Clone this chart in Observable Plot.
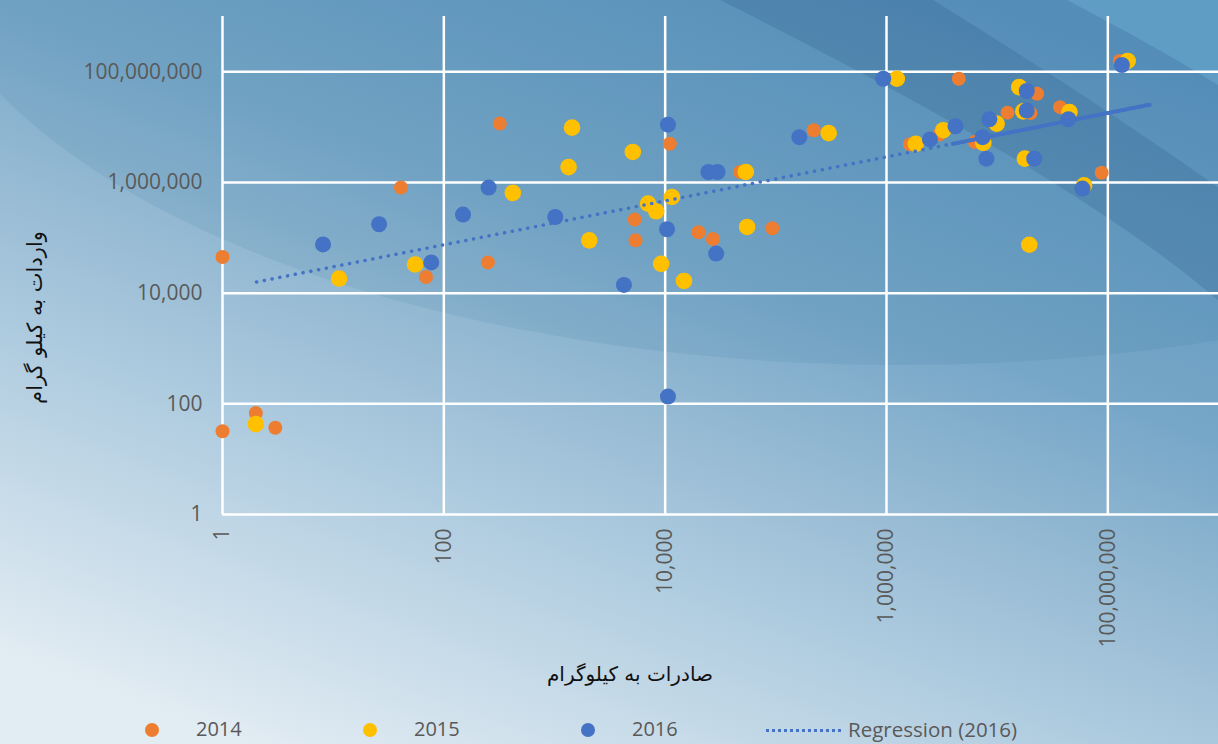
<!DOCTYPE html>
<html><head><meta charset="utf-8">
<script src="https://cdn.jsdelivr.net/npm/d3@7"></script>
<script src="https://cdn.jsdelivr.net/npm/@observablehq/plot@0.6"></script>
<style>
html,body{margin:0;padding:0;background:#fff;}
#wrap{position:relative;width:1218px;height:744px;overflow:hidden;font-family:"Open Sans",sans-serif;}
#bg{position:absolute;left:0;top:0;}
#chart{position:absolute;left:0;top:0;}
#xtitle{position:absolute;left:430px;width:400px;top:660px;text-align:center;font-family:"DejaVu Sans",sans-serif;font-size:20px;line-height:28px;color:#111;direction:rtl;}
.lg{position:absolute;top:719px;height:20px;font-size:20px;line-height:20px;color:#595959;white-space:nowrap;}
.lgdot{position:absolute;width:14px;height:14px;border-radius:50%;top:723px;}
.lgline{position:absolute;top:729px;height:0;border-top:3px dotted #4472C4;}
</style>
</head><body>
<div id="wrap">
<svg id="bg" width="1218" height="744" viewBox="0 0 1218 744">
  <defs>
    <linearGradient id="g0" x1="0.2" y1="1" x2="0.8" y2="0">
      <stop offset="0" stop-color="#e2ecf3"/>
      <stop offset="0.35" stop-color="#a9c8dd"/>
      <stop offset="0.45" stop-color="#9abdd5"/>
      <stop offset="0.65" stop-color="#77a7c8"/>
      <stop offset="1" stop-color="#5a92bd"/>
    </linearGradient>
  </defs>
  <rect width="1218" height="744" fill="url(#g0)"/>
  <ellipse cx="900" cy="-100" rx="990" ry="465" fill="#2c6797" opacity="0.10"/>
  <path d="M720,0 L933,0 C1030,60 1130,125 1218,187 L1218,300 C1100,200 920,100 720,0 Z" fill="#23527c" opacity="0.2"/>
  <path d="M1067,0 L1218,0 L1218,85 C1170,55 1120,28 1067,0 Z" fill="#7cc0e6" opacity="0.3"/>
</svg>
<div id="chart"></div>
<div id="xtitle"></div>
<div id="legend"></div>
</div>
<script>
const xTicks = [1, 100, 10000, 1000000, 100000000];
const yTicks = [1, 100, 10000, 1000000, 100000000];
const xTitle = "صادرات به کیلوگرام";
const yTitle = "واردات به کیلو گرام";
const seriesNames = ["2014", "2015", "2016", "Regression (2016)"];
const seriesColors = ["#ED7D31", "#FFC000", "#4472C4", "#4472C4"];

// 2014 (orange)
const x2014 = [1, 2.0, 1, 3.0, 41, 69, 320, 250, 11000, 5300, 5400, 20000, 27000, 93000, 220000, 4.5e6, 2.3e7, 2.0e7, 1.24e7, 3.7e7, 8.8e7, 1.63e6, 6.3e6, 1.28e8, 3.0e6, 47500];
const y2014 = [45000, 68, 32, 37, 810000, 19600, 1.16e7, 36000, 5.0e6, 214000, 90000, 126000, 95000, 149000, 8.8e6, 7.5e7, 4.0e7, 1.8e7, 1.83e7, 2.3e7, 1.5e6, 4.9e6, 5.4e6, 1.57e8, 7.4e6, 1.55e6];
// 2015 (yellow)
const x2015 = [2.0, 11.3, 55, 420, 1440, 1340, 2060, 5100, 7000, 8300, 11500, 9200, 14800, 55000, 53500, 3.0e5, 1.24e6, 1.84e6, 3.26e6, 9.9e6, 7.5e6, 1.58e7, 1.72e7, 1.78e7, 4.5e7, 6.1e7, 1.95e7, 1.51e8];
const y2015 = [43, 18400, 33000, 650000, 9.8e6, 1.9e6, 90000, 3.56e6, 416000, 302000, 547000, 34000, 16600, 157000, 1.55e6, 7.8e6, 7.5e7, 5.0e6, 8.8e6, 1.16e7, 5.2e6, 5.3e7, 1.93e7, 2.7e6, 1.88e7, 890000, 75000, 1.57e8];
// 2016 (blue)
const x2016 = [8.1, 26, 77, 149, 254, 1016, 4240, 10400, 10600, 10600, 24600, 29700, 28900, 163000, 935000, 2.47e6, 4.2e6, 7.4e6, 8.5e6, 8.0e6, 1.85e7, 1.85e7, 2.16e7, 4.4e7, 5.9e7, 1.34e8];
const y2016 = [76000, 176000, 36000, 263000, 810000, 238000, 14100, 143000, 1.11e7, 135, 1.55e6, 1.55e6, 52000, 6.6e6, 7.5e7, 6.0e6, 1.04e7, 6.6e6, 1.39e7, 2.7e6, 4.5e7, 2.0e7, 2.7e6, 1.39e7, 776000, 1.33e8];
// Regression (2016) trendline endpoints
const regX = [2.03, 2.39e8];
const regY = [15900, 2.55e7];
const regDenseX = [3.98e6, 2.39e8];
const regDenseY = [5.0e6, 2.55e7];

const toPts = (xs, ys) => xs.map((x, i) => ({x, y: ys[i]}));
const d14 = toPts(x2014, y2014), d15 = toPts(x2015, y2015), d16 = toPts(x2016, y2016);
const reg = toPts(regX, regY), regDense = toPts(regDenseX, regDenseY);
const fmt = d3.format(",");

const chart = Plot.plot({
  width: 1218, height: 660,
  marginTop: 16, marginLeft: 222, marginRight: 0, marginBottom: 146,
  style: {background: "transparent", fontFamily: "'Open Sans', sans-serif", overflow: "visible"},
  x: {type: "log", domain: [1, 1e9], label: null},
  y: {type: "log", domain: [1, 1e9], label: null},
  marks: [
    Plot.gridY(yTicks, {stroke: "white", strokeOpacity: 1, strokeWidth: 2.5}),
    Plot.gridX(xTicks, {stroke: "white", strokeOpacity: 1, strokeWidth: 2.5}),
    Plot.axisX(xTicks, {tickSize: 0, tickPadding: 14, tickRotate: -90, tickFormat: fmt, fontSize: 21, fill: "#595959", label: null}),
    Plot.axisY(yTicks, {tickSize: 0, tickPadding: 20, tickFormat: fmt, fontSize: 21, fill: "#595959", label: null}),
    Plot.dot(d14, {x: "x", y: "y", r: 7, fill: seriesColors[0], stroke: "none"}),
    Plot.dot(d15, {x: "x", y: "y", r: 8.3, fill: seriesColors[1], stroke: "none"}),
    Plot.dot(d16, {x: "x", y: "y", r: 8, fill: seriesColors[2], stroke: "none"}),
    Plot.line(reg, {x: "x", y: "y", stroke: seriesColors[3], strokeWidth: 3.5, strokeDasharray: "0.1,7.8", strokeLinecap: "round"}),
    Plot.line(regDense, {x: "x", y: "y", stroke: seriesColors[3], strokeWidth: 4, strokeDasharray: "3,1.6"}),
    Plot.text([yTitle], {frameAnchor: "left", dx: -187, dy: 52, rotate: -90, textAnchor: "middle", fontFamily: "DejaVu Sans", fontSize: 21, fill: "#111"})
  ]
});
document.getElementById("chart").appendChild(chart);
document.getElementById("xtitle").textContent = xTitle;

const legend = document.getElementById("legend");
seriesNames.forEach((name, i) => {
  if (i < 3) {
    const dot = document.createElement("div");
    dot.className = "lgdot";
    dot.style.left = (145 + i * 218) + "px";
    dot.style.background = seriesColors[i];
    legend.appendChild(dot);
    const t = document.createElement("div");
    t.className = "lg";
    t.style.left = (196 + i * 218) + "px";
    t.textContent = name;
    legend.appendChild(t);
  } else {
    const ln = document.createElement("div");
    ln.className = "lgline";
    ln.style.left = "766px";
    ln.style.width = "75px";
    legend.appendChild(ln);
    const t = document.createElement("div");
    t.className = "lg";
    t.style.left = "848px";
    t.style.fontSize = "20.5px";
    t.textContent = name;
    legend.appendChild(t);
  }
});
</script>
</body></html>
